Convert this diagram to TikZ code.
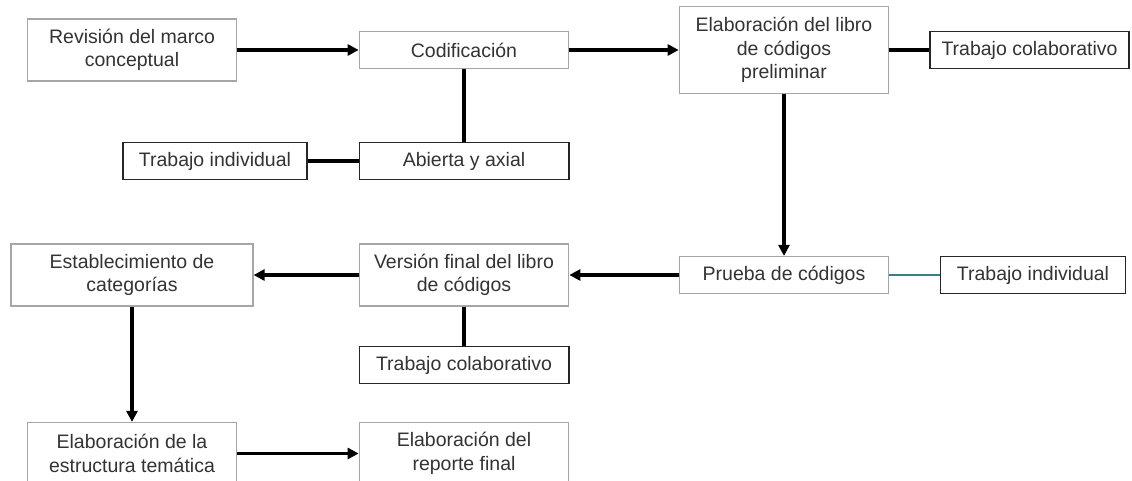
\documentclass[tikz,border=0pt]{standalone}
\usepackage{fontspec}
\setmainfont{Liberation Sans}
\usepackage{tikz}
\usetikzlibrary{arrows.meta}

\definecolor{bordegris}{HTML}{A6A6A6}
\definecolor{lineateal}{HTML}{3E7C87}

\tikzset{
    caja/.style={draw=bordegris, line width=1.2pt, fill=white, text=black!80,
        align=center, inner sep=0pt, minimum width=209.5pt,
        font=\fontsize{19.5}{23.5}\selectfont},
    cajanegra/.style={caja, draw=black!85, line width=1.5pt},
    flecha/.style={line width=3.5pt, -{Triangle[length=11pt,width=11pt]}},
    enlace/.style={line width=3.5pt},
}

\begin{document}
\begin{tikzpicture}[x=1pt, y=-1pt]

        \clip (0,0) rectangle (1132,481);

        \node[caja, minimum height=62pt] (revision) at (132,50) {Revisión del marco\\conceptual};
        \node[caja, minimum height=37pt] (codificacion) at (464,50) {Codificación};
        \node[caja, minimum height=87pt] (libroprelim) at (784,50) {Elaboración del libro\\de códigos\\preliminar};
        \node[cajanegra, minimum width=199pt, minimum height=37pt] (colab1) at (1029.5,50) {Trabajo colaborativo};

        \node[cajanegra, minimum height=37pt] (abierta) at (464,161) {Abierta y axial};
        \node[cajanegra, minimum width=184pt, minimum height=37pt] (indiv1) at (215,161) {Trabajo individual};

        \node[caja, minimum width=242pt, minimum height=62pt] (categorias) at (132,275) {Establecimiento de\\categorías};
        \node[caja, minimum height=62pt] (librofinal) at (464,275) {Versión final del libro\\de códigos};
        \node[caja, minimum height=37pt] (prueba) at (784,275) {Prueba de códigos};
        \node[cajanegra, minimum width=185pt, minimum height=37pt] (indiv2) at (1033,275) {Trabajo individual};

        \node[cajanegra, minimum height=37pt] (colab2) at (464,365) {Trabajo colaborativo};

        \node[caja, minimum height=62pt] (estructura) at (132,453.5) {Elaboración de la\\estructura temática};
        \node[caja, minimum height=62pt] (reporte) at (464,453.5) {Elaboración del\\reporte final};

        \draw[flecha] (revision) -- (codificacion);
        \draw[flecha] (codificacion) -- (libroprelim);
        \draw[enlace] (libroprelim) -- (colab1);
        \draw[enlace] (codificacion) -- (abierta);
        \draw[enlace] (indiv1) -- (abierta);
        \draw[flecha] (libroprelim) -- (prueba);
        \draw[lineateal, line width=2pt] (prueba) -- (indiv2);
        \draw[flecha] (prueba) -- (librofinal);
        \draw[flecha] (librofinal) -- (categorias);
        \draw[enlace] (librofinal) -- (colab2);
        \draw[flecha] (categorias) -- (estructura);
        \draw[flecha] (estructura) -- (reporte);

\end{tikzpicture}
\end{document}
